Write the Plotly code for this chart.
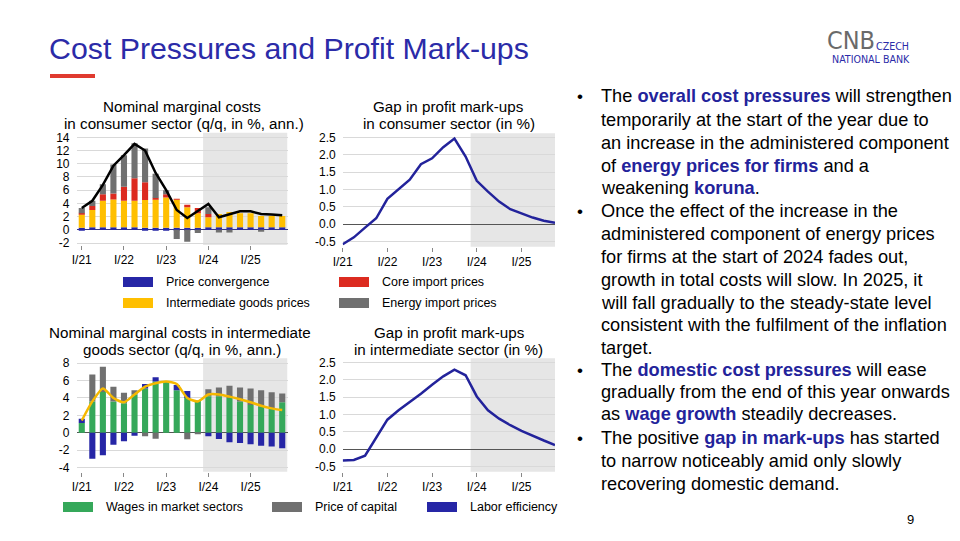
import plotly.graph_objects as go

# ---------------- data ----------------
quarters = ["I/21", "II/21", "III/21", "IV/21", "I/22", "II/22", "III/22", "IV/22",
            "I/23", "II/23", "III/23", "IV/23", "I/24", "II/24", "III/24", "IV/24",
            "I/25", "II/25", "III/25", "IV/25"]
tick_vals = ["I/21", "I/22", "I/23", "I/24", "I/25"]

# y tick labels
consumer_ticks = [-2, 0, 2, 4, 6, 8, 10, 12, 14]
intermediate_ticks = [-4, -2, 0, 2, 4, 6, 8]
gap_ticks = [-0.5, 0.0, 0.5, 1.0, 1.5, 2.0, 2.5]

# Nominal marginal costs in consumer sector
price_convergence = [0.3, 0.4, 0.4, 0.4, 0.4, 0.4, 0.3, 0.3, 0.3, 0.3,
                     0.3, 0.3, 0.4, 0.4, 0.4, 0.4, 0.4, 0.4, 0.4, 0.4]
intermediate_goods = [2.0, 2.6, 4.0, 4.2, 4.0, 4.0, 4.2, 4.3, 4.6, 4.3,
                      3.1, 2.2, 1.5, 2.0, 2.3, 2.1, 2.1, 1.7, 1.7, 1.7]
core_import = [0.2, 0.6, 1.0, 0.9, 2.1, 3.4, 2.7, 0.2, 0.5, 0.1,
               0.4, 0.8, 0.5, 0.0, 0.0, 0.0, 0.0, 0.0, 0.0, 0.0]
energy_import = [0.8, 0.8, 1.5, 4.4, 4.8, 5.3, 5.1, 3.7, 0.6, -1.4,
                 -1.8, -0.5, 1.0, -0.4, -0.4, 0.0, 0.0, -0.2, 0.0, 0.0]
consumer_total = [3.3, 4.4, 6.8, 9.7, 11.3, 13.0, 12.0, 8.6, 6.0, 3.0,
                  1.8, 2.9, 3.9, 1.9, 2.3, 2.8, 2.8, 2.4, 2.3, 2.2]

# Gap in profit mark-ups in consumer sector
gap_consumer = [-0.58, -0.38, -0.1, 0.17, 0.73, 1.01, 1.28, 1.73, 1.9, 2.22,
                2.47, 1.95, 1.25, 0.94, 0.65, 0.43, 0.31, 0.19, 0.1, 0.04]

# Nominal marginal costs in intermediate goods sector
wages = [1.1, 3.6, 4.7, 3.6, 3.4, 4.4, 5.1, 5.9, 5.9, 4.9,
         4.0, 3.7, 4.2, 4.2, 4.0, 3.6, 3.2, 3.0, 2.8, 3.5]
price_capital = [0.0, 3.1, 2.9, 1.7, 1.2, 0.5, -0.4, -0.7, 0.0, 0.0,
                 -0.75, -0.1, 0.8, 1.0, 1.4, 1.6, 1.9, 1.9, 1.85, 1.0]
labor_efficiency = [0.5, -3.0, -2.6, -1.4, -1.0, -0.35, 0.5, 0.5, 0.0, 0.6,
                    0.8, 0.0, -0.4, -0.73, -1.1, -1.2, -1.35, -1.5, -1.6, -1.8]
intermediate_total = [1.4, 3.6, 5.1, 4.0, 3.5, 4.4, 5.3, 5.7, 5.9, 5.6,
                      4.0, 3.6, 4.4, 4.4, 4.15, 3.85, 3.5, 3.1, 2.8, 2.6]

# Gap in profit mark-ups in intermediate sector
gap_intermediate = [-0.33, -0.31, -0.19, 0.33, 0.85, 1.12, 1.35, 1.6, 1.86, 2.1,
                    2.29, 2.13, 1.52, 1.12, 0.88, 0.69, 0.53, 0.38, 0.25, 0.12]

# ---------------- styling ----------------
W, H = 960, 541
NAVY = "#23239b"
BLUE = "#2626a6"
RED = "#dc2b20"
YELLOW = "#ffbf00"
GRAY = "#707070"
GREEN = "#35a85a"
SHADE = "#e6e6e6"
GRID = "#d9d9d9"
FONT = "Liberation Sans, Arial, sans-serif"


def fx(px):
    return px / W


def fy(px):
    return 1 - px / H


fig = go.Figure()

# top-left bars
for name, vals, col in [("Price convergence", price_convergence, BLUE),
                        ("Intermediate goods prices", intermediate_goods, YELLOW),
                        ("Core import prices", core_import, RED),
                        ("Energy import prices", energy_import, GRAY)]:
    fig.add_trace(go.Bar(x=quarters, y=vals, name=name, marker_color=col,
                         marker_line_width=0, xaxis="x", yaxis="y", showlegend=False))
fig.add_trace(go.Scatter(x=quarters, y=consumer_total, mode="lines",
                         line=dict(color="black", width=2.5), xaxis="x", yaxis="y",
                         showlegend=False))

# top-right line
fig.add_trace(go.Scatter(x=quarters, y=gap_consumer, mode="lines",
                         line=dict(color=NAVY, width=2.5), xaxis="x2", yaxis="y2",
                         showlegend=False))

# bottom-left bars
for name, vals, col in [("Wages in market sectors", wages, GREEN),
                        ("Price of capital", price_capital, GRAY),
                        ("Labor efficiency", labor_efficiency, BLUE)]:
    fig.add_trace(go.Bar(x=quarters, y=vals, name=name, marker_color=col,
                         marker_line_width=0, xaxis="x3", yaxis="y3", showlegend=False))
fig.add_trace(go.Scatter(x=quarters, y=intermediate_total, mode="lines",
                         line=dict(color="#f5b800", width=2.5, shape="spline", smoothing=0.6),
                         xaxis="x3", yaxis="y3", showlegend=False))

# bottom-right line
fig.add_trace(go.Scatter(x=quarters, y=gap_intermediate, mode="lines",
                         line=dict(color=NAVY, width=2.5), xaxis="x4", yaxis="y4",
                         showlegend=False))

tickfont = dict(family=FONT, size=12, color="black")


def xaxis(domain, anchor, rng):
    return dict(domain=domain, anchor=anchor, type="category", range=rng,
                categoryorder="array", categoryarray=quarters, automargin=False,
                tickmode="array", tickvals=tick_vals, ticktext=tick_vals,
                ticks="outside", ticklen=4, tickcolor="#888", tickwidth=1,
                showgrid=False, showline=False, zeroline=False, tickfont=tickfont)


def yaxis(domain, anchor, rng, ticks, fmt, zcol):
    return dict(domain=domain, anchor=anchor, range=rng, automargin=False,
                tickmode="array", tickvals=ticks, ticktext=[fmt.format(t) for t in ticks],
                showgrid=True, gridcolor=GRID, gridwidth=1,
                zeroline=True, zerolinecolor=zcol, zerolinewidth=1.2,
                showline=False, ticks="", tickfont=tickfont, ticklabelstandoff=6)


xl = [fx(76.5), fx(287.5)]
xr = [fx(342.7), fx(555)]
yt_l = [fy(245), fy(132.7)]
yt_r = [fy(246.7), fy(133.3)]
yb = [fy(471.7), fy(358.3)]

layout = dict(
    width=W, height=H, margin=dict(l=0, r=0, t=0, b=0, pad=0, autoexpand=False),
    paper_bgcolor="white", plot_bgcolor="rgba(0,0,0,0)",
    barmode="relative", bargap=0.42,
    font=dict(family=FONT, color="black"),
    xaxis=xaxis(xl, "y", [-0.5, 19.5]),
    yaxis=yaxis(yt_l, "x", [-2.3, 14.7], consumer_ticks, "{:d}", "#33338a"),
    xaxis2=xaxis(xr, "y2", [0, 19]),
    yaxis2=yaxis(yt_r, "x2", [-0.65, 2.62], gap_ticks, "{:.1f}", "#555555"),
    xaxis3=xaxis(xl, "y3", [-0.5, 19.5]),
    yaxis3=yaxis(yb, "x3", [-4.5, 8.57], intermediate_ticks, "{:d}", "#555555"),
    xaxis4=xaxis(xr, "y4", [0, 19]),
    yaxis4=yaxis(yb, "x4", [-0.65, 2.62], gap_ticks, "{:.1f}", "#555555"),
)
fig.update_layout(**layout)

shapes = []
# forecast shading
for xr_, yr_, x0, x1 in [("x", "y", 11.5, 19.5), ("x2", "y2", 11.45, 19),
                          ("x3", "y3", 11.5, 19.5), ("x4", "y4", 11.45, 19)]:
    shapes.append(dict(type="rect", xref=xr_, yref=yr_ + " domain", x0=x0, x1=x1,
                       y0=0, y1=1, fillcolor=SHADE, line_width=0, layer="below"))

# red underline of the title
shapes.append(dict(type="rect", xref="paper", yref="paper", x0=fx(50), x1=fx(95),
                   y0=fy(78), y1=fy(74), fillcolor="#e03a2f", line_width=0))

annotations = []


def text(x, y, s, size, color="black", anchor="left", fam=FONT):
    annotations.append(dict(xref="paper", yref="paper", x=fx(x), y=fy(y), text=s,
                            showarrow=False, xanchor=anchor, yanchor="middle",
                            borderpad=0, borderwidth=0,
                            font=dict(family=fam, size=size, color=color)))


# legends (swatch + label)
legend_items = [
    (123, 282, BLUE, "Price convergence"),
    (339, 282, RED, "Core import prices"),
    (123, 303, YELLOW, "Intermediate goods prices"),
    (339, 303, GRAY, "Energy import prices"),
    (63, 507, GREEN, "Wages in market sectors"),
    (272, 507, GRAY, "Price of capital"),
    (427, 507, BLUE, "Labor efficiency"),
]
for x, y, col, lab in legend_items:
    shapes.append(dict(type="rect", xref="paper", yref="paper", x0=fx(x), x1=fx(x + 30),
                       y0=fy(y + 5), y1=fy(y - 5), fillcolor=col, line_width=0))
    text(x + 43, y, lab, 12.5)

# page title
text(49, 48, "Cost Pressures and Profit Mark-ups", 30.3, "#2b2ba8")

# chart titles
text(182, 106, "Nominal marginal costs", 15.2, anchor="center")
text(184, 123, "in consumer sector (q/q, in %, ann.)", 15.2, anchor="center")
text(448, 106, "Gap in profit mark-ups", 15.2, anchor="center")
text(449, 123, "in consumer sector (in %)", 15.2, anchor="center")
text(180, 332, "Nominal marginal costs in intermediate", 15.2, anchor="center")
text(182, 349, "goods sector (q/q, in %, ann.)", 15.2, anchor="center")
text(449, 332, "Gap in profit mark-ups", 15.2, anchor="center")
text(448, 349, "in intermediate sector (in %)", 15.2, anchor="center")

# logo
LOGO_FONT = "DejaVu Sans Condensed, Liberation Sans Narrow, Arial Narrow, Liberation Sans, sans-serif"
text(875, 40, "CNB", 25, "#6a6a6a", anchor="right", fam=LOGO_FONT)
text(876, 46.5, "CZECH", 10.6, "#2b2ba8", fam=LOGO_FONT)
text(832, 59.5, "NATIONAL BANK", 10.6, "#2b2ba8", fam=LOGO_FONT)

# page number
text(910, 519, "9", 13, anchor="center")


def hl(s):
    return "<b><span style='color:%s'>%s</span></b>" % (NAVY, s)


body = [
    (96, True, "The " + hl("overall cost pressures") + " will strengthen"),
    (120, False, "temporarily at the start of the year due to"),
    (143, False, "an increase in the administered component"),
    (166, False, "of " + hl("energy prices for firms") + " and a"),
    (188, False, "weakening " + hl("koruna") + "."),
    (211, True, "Once the effect of the increase in the"),
    (234, False, "administered component of energy prices"),
    (257, False, "for firms at the start of 2024 fades out,"),
    (280, False, "growth in total costs will slow. In 2025, it"),
    (303, False, "will fall gradually to the steady-state level"),
    (325, False, "consistent with the fulfilment of the inflation"),
    (348, False, "target."),
    (370, True, "The " + hl("domestic cost pressures") + " will ease"),
    (392, False, "gradually from the end of this year onwards"),
    (414, False, "as " + hl("wage growth") + " steadily decreases."),
    (438, True, "The positive " + hl("gap in mark-ups") + " has started"),
    (461, False, "to narrow noticeably amid only slowly"),
    (484, False, "recovering domestic demand."),
]
for y, bullet, s in body:
    if bullet:
        text(577, y, "•", 17)
    text(601, y, s, 18.2)

fig.update_layout(shapes=shapes, annotations=annotations)

fig.write_html("out.html", config={"displayModeBar": False},
               post_script="document.body.style.margin='0';document.body.style.padding='0';")
